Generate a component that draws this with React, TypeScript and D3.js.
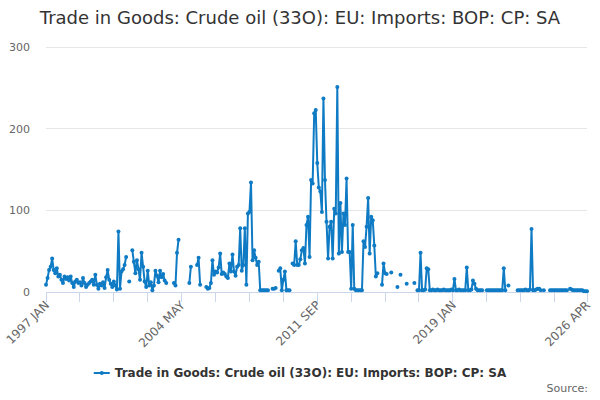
import React, { useEffect, useRef } from 'react';
import * as d3 from 'd3';

const title = 'Trade in Goods: Crude oil (33O): EU: Imports: BOP: CP: SA';
const seriesName = 'Trade in Goods: Crude oil (33O): EU: Imports: BOP: CP: SA';
const monthNames = ['JAN', 'FEB', 'MAR', 'APR', 'MAY', 'JUN', 'JUL', 'AUG', 'SEP', 'OCT', 'NOV', 'DEC'];
const firstYear = 1997;

// monthly values, one row per year (null = no value)
const imports: (number | null)[] = [
  9, 17, 27, 31, 41, 27, 23, 29, 19, 21, 15, 11, // 1997
  19, 16, 18, 14, 19, 11, 6, 13, 15, 11, 12, 8, // 1998
  17, 11, 6, 9, 11, 13, 15, 9, 21, 9, 4, 10, // 1999
  8, 12, 5, 18, 27, 15, 10, 6, 13, 8, 3, 74, // 2000
  4, 25, 28, 33, 43, null, 13, null, 51, 37, 23, 39, // 2001
  28, 15, 48, 31, 13, 6, 26, 8, 12, 2, 8, 26, // 2002
  20, 12, 26, 18, 22, 14, 11, null, null, null, null, 11, // 2003
  8, 48, 64, null, null, null, null, null, null, 11, 31, null, // 2004
  null, null, 33, 42, 9, null, null, null, 6, 4, 5, 11, // 2005
  39, 21, 25, 24, 30, 47, 22, 24, 22, 19, 17, 35, // 2006
  25, 46, 25, 20, 31, 33, 78, 26, 33, 78, 9, 96, // 2007
  98, 134, 39, 51, 42, 33, 37, 2, 2, 2, 2, 2, // 2008
  2, null, null, 4, 4, 5, null, 26, 29, 2, 15, 25, // 2009
  2, 2, 2, null, 35, 33, 62, 33, 33, 40, 51, 54, // 2010
  35, 82, 92, 43, 137, 133, 219, 223, 158, 128, 123, 98, // 2011
  237, 137, 86, 41, 80, 86, 41, 102, 96, 251, 47, 109, // 2012
  49, 96, 82, 139, 49, 49, 4, 82, 4, 2, 2, 2, // 2013
  2, 2, 62, 55, 80, 115, 47, 92, 88, 57, 19, 23, // 2014
  null, null, 9, 35, 23, 22, null, null, 24, null, null, null, // 2015
  6, null, 21, null, null, null, 10, null, null, null, null, 11, // 2016
  null, 2, 2, 48, 2, 2, 3, 29, 28, 2, 2, 3, // 2017
  2, 2, 3, 2, 2, 2, 3, 2, 2, 2, 2, 3, // 2018
  2, 16, 2, 2, 3, 2, 2, 2, 2, 30, 2, 2, // 2019
  3, 14, 10, 4, 2, 2, 2, 2, null, null, 2, 2, // 2020
  2, 2, 2, 2, 2, 2, 2, 2, 2, 29, 2, null, // 2021
  8, null, null, null, null, null, 2, 2, 2, 2, 2, 3, // 2022
  2, 2, 3, 77, 2, 2, 3, 4, 4, 2, null, 2, // 2023
  null, null, null, 2, 2, 2, 2, 2, 2, 2, 2, 2, // 2024
  2, 2, 2, null, 4, 3, 2, 2, 2, 2, 2, 2, // 2025
  2, 1, 1, 1, // 2026
];

const yTicks = [0, 100, 200, 300];
const labelledMonths = [0, 88, 176, 264, 351];

const monthLabel = (i: number) =>
  `${firstYear + Math.floor(i / 12)} ${monthNames[i % 12]}`;

const App: React.FC = () => {
  const svgRef = useRef<SVGSVGElement | null>(null);

  useEffect(() => {
    document.body.style.margin = '0';
    const width = 600;
    const height = 400;
    const font = '"DejaVu Sans", Verdana, sans-serif';
    const lineColor = '#0f7bc4';

    const svg = d3.select(svgRef.current)
      .attr('width', width)
      .attr('height', height)
      .style('font-family', font);
    svg.selectAll('*').remove();

    const x = d3.scaleLinear().domain([0, imports.length - 1]).range([46, 587]);
    const y = d3.scaleLinear().domain([0, 300]).range([292, 47]);

    svg.append('text')
      .attr('x', width / 2)
      .attr('y', 24)
      .attr('text-anchor', 'middle')
      .attr('fill', '#333333')
      .style('font-size', '18px')
      .text(title);

    // horizontal grid + y labels
    svg.append('g')
      .selectAll('line')
      .data(yTicks.filter(d => d > 0))
      .enter()
      .append('line')
      .attr('x1', x.range()[0])
      .attr('x2', x.range()[1])
      .attr('y1', d => y(d))
      .attr('y2', d => y(d))
      .attr('stroke', '#e6e6e6')
      .attr('shape-rendering', 'crispEdges');

    svg.append('g')
      .selectAll('text')
      .data(yTicks)
      .enter()
      .append('text')
      .attr('x', 30)
      .attr('y', d => y(d))
      .attr('dy', '0.35em')
      .attr('text-anchor', 'end')
      .attr('fill', '#666666')
      .style('font-size', '11px')
      .text(d => d);

    // x axis
    const tickIdx = d3.range(0, 331, 22).concat([imports.length - 1]);
    const xAxis = svg.append('g').attr('transform', `translate(0,${y(0)})`);
    xAxis.append('line')
      .attr('x1', x.range()[0])
      .attr('x2', x.range()[1])
      .attr('stroke', '#ccd6eb')
      .attr('shape-rendering', 'crispEdges');
    xAxis.selectAll('.tick')
      .data(tickIdx)
      .enter()
      .append('line')
      .attr('class', 'tick')
      .attr('x1', d => x(d))
      .attr('x2', d => x(d))
      .attr('y1', 0)
      .attr('y2', 10)
      .attr('stroke', '#ccd6eb')
      .attr('shape-rendering', 'crispEdges');
    xAxis.selectAll('.xlabel')
      .data(labelledMonths)
      .enter()
      .append('text')
      .attr('class', 'xlabel')
      .attr('text-anchor', 'end')
      .attr('fill', '#666666')
      .style('font-size', '12px')
      .attr('transform', d => `translate(${x(d) + 4},${14}) rotate(-45)`)
      .text(d => monthLabel(d));

    // series
    const line = d3.line<number | null>()
      .defined(d => d != null)
      .x((_, i) => x(i))
      .y(d => y(d as number));

    svg.append('path')
      .datum(imports)
      .attr('d', line)
      .attr('fill', 'none')
      .attr('stroke', lineColor)
      .attr('stroke-width', 2)
      .attr('stroke-linejoin', 'round');

    svg.append('g')
      .selectAll('circle')
      .data(imports.map((v, i) => ({ v, i })).filter(d => d.v != null))
      .enter()
      .append('circle')
      .attr('cx', d => x(d.i))
      .attr('cy', d => y(d.v as number))
      .attr('r', 2)
      .attr('fill', lineColor);

    // legend
    const legend = svg.append('g');
    const legendText = legend.append('text')
      .attr('x', 0)
      .attr('y', 0)
      .attr('dy', '0.35em')
      .attr('fill', '#333333')
      .style('font-size', '12px')
      .style('font-weight', 'bold')
      .text(seriesName);
    const tw = (legendText.node() as SVGTextElement).getComputedTextLength();
    const total = 21 + tw;
    const lx = width / 2 - total / 2;
    legendText.attr('x', lx + 21);
    legend.append('line')
      .attr('x1', lx).attr('x2', lx + 16)
      .attr('y1', 0).attr('y2', 0)
      .attr('stroke', lineColor)
      .attr('stroke-width', 2);
    legend.append('circle')
      .attr('cx', lx + 8).attr('cy', 0).attr('r', 2)
      .attr('fill', lineColor);
    legend.attr('transform', 'translate(0,373)');

    svg.append('text')
      .attr('x', 588)
      .attr('y', 392)
      .attr('text-anchor', 'end')
      .attr('fill', '#666666')
      .style('font-size', '11px')
      .text('Source:');
  }, []);

  return (
    <div>
      <svg ref={svgRef}></svg>
    </div>
  );
};

export default App;
